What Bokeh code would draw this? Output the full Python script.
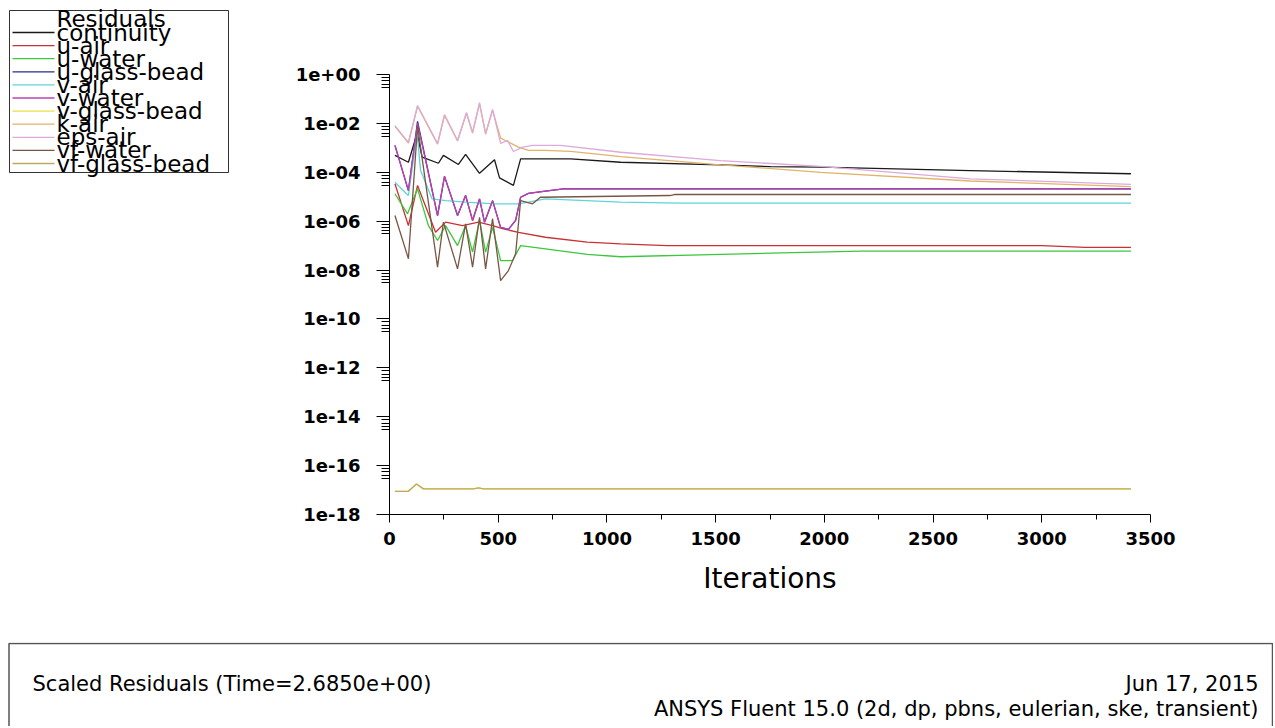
from bokeh.plotting import figure
from bokeh.layouts import column, row
from bokeh.models import Range1d, FixedTicker, CustomJSTickFormatter
from bokeh.core.properties import value
from bokeh.embed import file_html
from bokeh.resources import INLINE

# ---------------- data ----------------
series_names = ["continuity", "u-air", "u-water", "u-glass-bead", "v-air", "v-water",
                "v-glass-bead", "k-air", "eps-air", "vf-water", "vf-glass-bead"]
series_colors = ["#1a1a1a", "#c83232", "#3cc83c", "#2b2b8c", "#5fd5d8", "#c040b0",
                 "#e6e045", "#e0b468", "#dcaadc", "#7a5545", "#c0a860"]

continuity_it = [25, 87, 127, 150, 225, 248, 317, 350, 414, 483, 506, 570, 603, 833, 1063, 1523, 1753, 1983, 2672, 3410]
continuity_val = [4.9e-4, 2.57e-4, 4.0e-3, 4.17e-4, 2.34e-4, 4.9e-4, 2.09e-4, 5.37e-4, 9.1e-5, 3.24e-4,
                  5.9e-5, 2.9e-5, 3.55e-4, 3.55e-4, 2.57e-4, 2.0e-4, 1.7e-4, 1.62e-4, 1.17e-4, 8.7e-5]

u_air_it = [25, 87, 129, 212, 258, 336, 409, 474, 520, 593, 717, 909, 1063, 1277, 1800, 2200, 3000, 3200, 3410]
u_air_val = [3.4e-5, 6.6e-7, 2.9e-5, 3.5e-7, 9.1e-7, 6.6e-7, 9.1e-7, 6.6e-7, 4.9e-7, 3.5e-7,
             2.2e-7, 1.38e-7, 1.17e-7, 1.0e-7, 1.0e-7, 1.0e-7, 1.0e-7, 8.5e-8, 8.5e-8]

u_water_it = [25, 83, 129, 179, 221, 258, 313, 350, 382, 414, 442, 474, 511, 566, 603, 717, 909, 1063, 1523, 1753, 2167, 3410]
u_water_val = [1.32e-5, 2.0e-6, 2.1e-5, 6.6e-7, 1.62e-7, 6.6e-7, 1.0e-7, 6.6e-7, 5.4e-8, 1.07e-6, 5.4e-8,
               5.6e-7, 2.45e-8, 2.45e-8, 1.0e-7, 7.4e-8, 4.4e-8, 3.5e-8, 4.4e-8, 4.9e-8, 5.9e-8, 5.9e-8]

u_glass_bead_it = [25, 87, 129, 221, 253, 313, 350, 382, 414, 437, 474, 511, 547, 580, 603, 639, 717, 800, 3410]
u_glass_bead_val = [1.26e-3, 1.78e-5, 1.2e-2, 1.7e-6, 6.8e-5, 1.7e-6, 1.12e-5, 1.07e-6, 8.1e-6, 9.1e-7,
                    6.9e-6, 5.6e-7, 4.6e-7, 1.07e-6, 9.5e-6, 1.38e-5, 1.7e-5, 2.1e-5, 2.1e-5]

v_air_it = [25, 87, 127, 143, 196, 258, 350, 488, 593, 639, 717, 1063, 1340, 3410]
v_air_val = [3.9e-5, 1.12e-5, 4.0e-3, 1.2e-4, 8.1e-6, 6.9e-6, 6.0e-6, 5.1e-6, 5.1e-6, 6.0e-6,
             8.1e-6, 6.0e-6, 5.5e-6, 5.5e-6]

v_water_it = [25, 87, 129, 221, 253, 313, 350, 382, 414, 437, 474, 511, 547, 580, 603, 639, 717, 800, 3410]
v_water_val = [1.26e-3, 1.78e-5, 1.0e-2, 1.7e-6, 6.8e-5, 1.7e-6, 1.12e-5, 1.07e-6, 8.1e-6, 9.1e-7,
               6.9e-6, 5.6e-7, 4.6e-7, 1.07e-6, 9.5e-6, 1.38e-5, 1.7e-5, 2.1e-5, 2.1e-5]

v_glass_bead_it = [25, 87, 124, 156, 386, 409, 432, 3410]
v_glass_bead_val = [8.9e-18, 8.9e-18, 1.78e-17, 1.12e-17, 1.12e-17, 1.23e-17, 1.12e-17, 1.12e-17]

k_air_it = [25, 87, 129, 221, 253, 313, 354, 382, 414, 442, 474, 511, 534, 593, 639, 717, 833, 1063, 1523, 1983, 2672, 3410]
k_air_val = [7.6e-3, 1.58e-3, 5.0e-2, 1.41e-3, 2.1e-2, 1.9e-3, 2.6e-2, 4.0e-3, 6.3e-2, 3.6e-3, 3.5e-2,
             2.5e-3, 2.0e-3, 1.07e-3, 7.8e-4, 7.8e-4, 7.1e-4, 4.4e-4, 2.0e-4, 1.0e-4, 4.4e-5, 2.6e-5]

eps_air_it = [25, 87, 129, 221, 253, 313, 354, 382, 414, 442, 474, 511, 543, 570, 612, 658, 787, 1063, 1523, 1983, 2672, 3410]
eps_air_val = [8.1e-3, 1.66e-3, 5.4e-2, 1.51e-3, 2.3e-2, 2.0e-3, 2.8e-2, 4.3e-3, 7.1e-2, 3.9e-3, 3.7e-2,
               1.51e-3, 2.0e-3, 7.1e-4, 1.07e-3, 1.26e-3, 1.26e-3, 6.6e-4, 3.0e-4, 1.74e-4, 5.4e-5, 3.2e-5]

vf_water_it = [25, 87, 129, 221, 248, 313, 350, 382, 414, 442, 474, 511, 547, 580, 603, 658, 694, 1290, 1310, 3410]
vf_water_val = [1.7e-6, 2.9e-8, 7.9e-3, 1.32e-8, 9.1e-7, 1.12e-8, 7.8e-7, 1.32e-8, 1.45e-6, 1.12e-8,
                1.26e-6, 3.7e-9, 9.5e-9, 4.6e-8, 6.9e-6, 5.1e-6, 9.5e-6, 1.12e-5, 1.23e-5, 1.23e-5]

vf_glass_bead_it = [25, 87, 124, 156, 386, 409, 432, 3410]
vf_glass_bead_val = [8.9e-18, 8.9e-18, 1.78e-17, 1.12e-17, 1.12e-17, 1.23e-17, 1.12e-17, 1.12e-17]

x_ticks = [0, 500, 1000, 1500, 2000, 2500, 3000, 3500]
y_tick_exponents = [0, -2, -4, -6, -8, -10, -12, -14, -16, -18]

legend_title = "Residuals"
footer_left = "Scaled Residuals  (Time=2.6850e+00)"
footer_date = "Jun 17, 2015"
footer_right = "ANSYS Fluent 15.0 (2d, dp, pbns, eulerian, ske, transient)"

series_it = [continuity_it, u_air_it, u_water_it, u_glass_bead_it, v_air_it, v_water_it,
             v_glass_bead_it, k_air_it, eps_air_it, vf_water_it, vf_glass_bead_it]
series_val = [continuity_val, u_air_val, u_water_val, u_glass_bead_val, v_air_val, v_water_val,
              v_glass_bead_val, k_air_val, eps_air_val, vf_water_val, vf_glass_bead_val]

FONT = "DejaVu Sans"


def no_align(fig):
    try:
        fig.frame_align = False
    except Exception:
        pass


# ---------------- main plot ----------------
p = figure(width=1025, height=642, x_range=Range1d(0, 3500), y_range=Range1d(1e-18, 1),
           y_axis_type="log", output_backend="svg", toolbar_location=None,
           min_border_left=141, min_border_right=123, min_border_top=74, min_border_bottom=128)
no_align(p)
p.grid.visible = False
p.outline_line_color = None
p.background_fill_color = "white"
p.border_fill_color = "white"

for it, val, col in zip(series_it, series_val, series_colors):
    p.line(it, val, line_color=col, line_width=1.3)

yt = [10.0 ** e for e in y_tick_exponents]
y_minor = []
for e in y_tick_exponents[:-1]:
    for f in (0.75, 0.55, 0.4, 0.3):
        y_minor.append(f * 10.0 ** e)
p.yaxis.ticker = FixedTicker(ticks=yt, minor_ticks=y_minor)
p.yaxis.formatter = CustomJSTickFormatter(code="""
    const e = Math.round(Math.log10(tick));
    const a = Math.abs(e);
    return "1e" + (e < 0 ? "-" : "+") + (a < 10 ? "0" + a : "" + a);
""")
x_minor = [t + 250 for t in x_ticks[:-1]]
p.xaxis.ticker = FixedTicker(ticks=x_ticks, minor_ticks=x_minor)

for ax in (p.xaxis[0], p.yaxis[0]):
    ax.axis_line_color = "black"
    ax.axis_line_width = 1
    ax.major_tick_line_color = "black"
    ax.minor_tick_line_color = "black"
    ax.major_tick_in = 0
    ax.minor_tick_in = 0
    ax.major_label_text_font = FONT
    ax.major_label_text_font_style = "bold"
    ax.major_label_text_font_size = "18px"
    ax.major_label_text_color = "black"

p.yaxis.major_tick_out = 13
p.yaxis.minor_tick_out = 8
p.yaxis.major_label_standoff = 16
p.xaxis.major_tick_out = 8
p.xaxis.minor_tick_out = 5
p.xaxis.major_label_standoff = 9

p.xaxis.axis_label = "Iterations"
p.xaxis.axis_label_text_font = FONT
p.xaxis.axis_label_text_font_style = "normal"
p.xaxis.axis_label_text_font_size = "28px"
p.xaxis.axis_label_text_color = "black"
p.xaxis.axis_label_standoff = 14

# ---------------- legend panel ----------------
lg = figure(width=248, height=642, x_range=Range1d(0, 248), y_range=Range1d(642, 0),
            output_backend="svg", toolbar_location=None, x_axis_location=None,
            y_axis_location=None, min_border=0)
no_align(lg)
lg.grid.visible = False
lg.outline_line_color = None
lg.border_fill_color = "white"
lg.quad(left=[9], right=[228], top=[10], bottom=[172], fill_color=None,
        line_color="#333333", line_width=1)
n = len(series_names)
ys = [32 + i * 13.1 for i in range(n)]
lg.segment(x0=[12] * n, x1=[54] * n, y0=ys, y1=ys, line_color=series_colors, line_width=1.3)
lg.text(x=[56], y=[18], text=[legend_title], text_font=value(FONT), text_font_size="23px",
        text_baseline="middle", text_color="black")
lg.text(x=[56] * n, y=ys, text=series_names, text_font=value(FONT), text_font_size="23px",
        text_baseline="middle", text_color="black")

# ---------------- footer ----------------
bt = figure(width=1273, height=84, x_range=Range1d(0, 1273), y_range=Range1d(84, 0),
            output_backend="svg", toolbar_location=None, x_axis_location=None,
            y_axis_location=None, min_border=0)
no_align(bt)
bt.grid.visible = False
bt.outline_line_color = None
bt.border_fill_color = "white"
bt.multi_line(xs=[[8.5, 8.5, 1272, 1272]], ys=[[84, 1, 1, 84]], line_color="#555555", line_width=1.5)
bt.text(x=[32], y=[41], text=[footer_left], text_font=value(FONT), text_font_size="21px",
        text_baseline="middle", text_color="black")
bt.text(x=[1258], y=[41], text=[footer_date], text_font=value(FONT), text_font_size="21px",
        text_baseline="middle", text_align="right", text_color="black")
bt.text(x=[1258], y=[66], text=[footer_right], text_font=value(FONT), text_font_size="21px",
        text_baseline="middle", text_align="right", text_color="black")

layout = column(row(lg, p), bt)
open("out.html", "w").write(file_html(layout, INLINE))
